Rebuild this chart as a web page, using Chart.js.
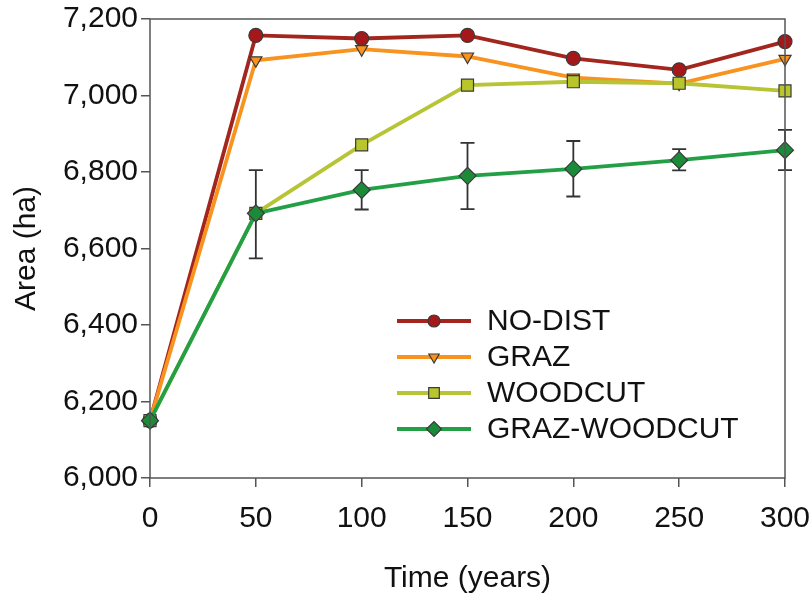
<!DOCTYPE html>
<html>
<head>
<meta charset="utf-8">
<script src="https://cdn.jsdelivr.net/npm/chart.js@4.4.1/dist/chart.umd.min.js"></script>
<style>
  html, body { margin: 0; padding: 0; background: #fff; }
</style>
</head>
<body>
<canvas id="areaChart" width="811" height="595"></canvas>
<script>
const years = [0, 50, 100, 150, 200, 250, 300];
const noDist = [6150, 7157, 7149, 7157, 7097, 7067, 7141];
const graz = [6150, 7092, 7121, 7102, 7047, 7031, 7096];
const woodcut = [6150, 6692, 6871, 7027, 7036, 7032, 7012];
const grazWoodcut = [6150, 6692, 6753, 6790, 6808, 6831, 6857];
// error bar ends for GRAZ-WOODCUT
const gwLow = [null, 6574, 6702, 6703, 6736, 6804, 6805];
const gwHigh = [null, 6805, 6805, 6876, 6881, 6860, 6910];

const FONT = "'Liberation Sans', Arial, sans-serif";

function pts(vals) {
  return years.map((x, i) => ({ x: x, y: vals[i] }));
}

const series = [
  { label: "NO-DIST", data: noDist, line: "#a2261d", fill: "#a5181a", style: "circle", r: 7, rot: 0, order: 4 },
  { label: "GRAZ", data: graz, line: "#f7931e", fill: "#f7931e", style: "triangle", r: 7, rot: 180, order: 3 },
  { label: "WOODCUT", data: woodcut, line: "#b6c435", fill: "#b9c62b", style: "rect", r: 8.5, rot: 0, order: 2 },
  { label: "GRAZ-WOODCUT", data: grazWoodcut, line: "#23a046", fill: "#1b8b3a", style: "rectRot", r: 8.5, rot: 0, order: 1 }
];

const frame = {
  id: "frame",
  afterDraw(chart) {
    const a = chart.chartArea, ctx = chart.ctx;
    ctx.save();
    ctx.strokeStyle = "#555";
    ctx.lineWidth = 1.5;
    ctx.strokeRect(a.left, a.top, a.right - a.left, a.bottom - a.top);
    ctx.restore();
  }
};

const errorBars = {
  id: "errorBars",
  beforeDatasetsDraw(chart) {
    const ctx = chart.ctx, xs = chart.scales.x, ys = chart.scales.y;
    ctx.save();
    ctx.strokeStyle = "#333";
    ctx.lineWidth = 1.8;
    years.forEach((yr, i) => {
      if (gwLow[i] == null) return;
      const x = xs.getPixelForValue(yr);
      const y1 = ys.getPixelForValue(gwLow[i]);
      const y2 = ys.getPixelForValue(gwHigh[i]);
      ctx.beginPath();
      ctx.moveTo(x, y1); ctx.lineTo(x, y2);
      ctx.moveTo(x - 7, y1); ctx.lineTo(x + 7, y1);
      ctx.moveTo(x - 7, y2); ctx.lineTo(x + 7, y2);
      ctx.stroke();
    });
    ctx.restore();
  }
};

const legendBox = {
  id: "legendBox",
  afterDraw(chart) {
    const ctx = chart.ctx;
    ctx.save();
    series.forEach((s, i) => {
      const y = 321 + i * 36;
      ctx.strokeStyle = s.line;
      ctx.lineWidth = 3.8;
      ctx.beginPath();
      ctx.moveTo(397, y); ctx.lineTo(471, y);
      ctx.stroke();
      ctx.fillStyle = s.fill;
      ctx.strokeStyle = "#3a3a3a";
      ctx.lineWidth = 1.2;
      Chart.helpers.drawPoint(ctx, { pointStyle: s.style, radius: s.r - 1, rotation: s.rot, borderWidth: 1.2 }, 434, y);
      ctx.fillStyle = "#111";
      ctx.font = "30px " + FONT;
      ctx.textBaseline = "middle";
      ctx.textAlign = "left";
      ctx.fillText(s.label, 487, y + 1);
    });
    ctx.restore();
  }
};

new Chart(document.getElementById("areaChart"), {
  type: "line",
  data: {
    datasets: series.map(s => ({
      label: s.label,
      data: pts(s.data),
      borderColor: s.line,
      borderWidth: 3.8,
      backgroundColor: s.fill,
      pointBackgroundColor: s.fill,
      pointBorderColor: "#3a3a3a",
      pointBorderWidth: 1.2,
      pointStyle: s.style,
      pointRadius: s.r,
      pointRotation: s.rot,
      tension: 0,
      clip: false,
      order: s.order
    }))
  },
  options: {
    responsive: false,
    animation: false,
    layout: { padding: { top: 19, right: 26, left: 0, bottom: 0 } },
    plugins: { legend: { display: false }, tooltip: { enabled: false } },
    scales: {
      x: {
        type: "linear",
        min: 0, max: 300,
        ticks: { stepSize: 50, color: "#111", font: { family: FONT, size: 30 }, padding: 14, maxRotation: 0 },
        grid: { drawOnChartArea: false, drawTicks: true, tickLength: 9, color: "#555", lineWidth: 1.5 },
        border: { display: false },
        title: { display: true, text: "Time (years)", color: "#111", font: { family: FONT, size: 30 }, padding: { top: 0, bottom: -2 } },
        afterFit(scale) { scale.height = 117; scale.paddingLeft = 0; scale.paddingRight = 0; }
      },
      y: {
        min: 6000, max: 7200,
        ticks: {
          stepSize: 200, color: "#111", font: { family: FONT, size: 30 }, padding: 3,
          callback: v => v.toLocaleString("en-US")
        },
        grid: { drawOnChartArea: false, drawTicks: true, tickLength: 9, color: "#555", lineWidth: 1.5 },
        border: { display: false },
        title: { display: true, text: "Area (ha)", color: "#111", font: { family: FONT, size: 30 }, padding: { top: 9, bottom: 0 } },
        afterFit(scale) { scale.width = 150; scale.paddingTop = 0; scale.paddingBottom = 0; }
      }
    }
  },
  plugins: [frame, errorBars, legendBox]
});
</script>
</body>
</html>
